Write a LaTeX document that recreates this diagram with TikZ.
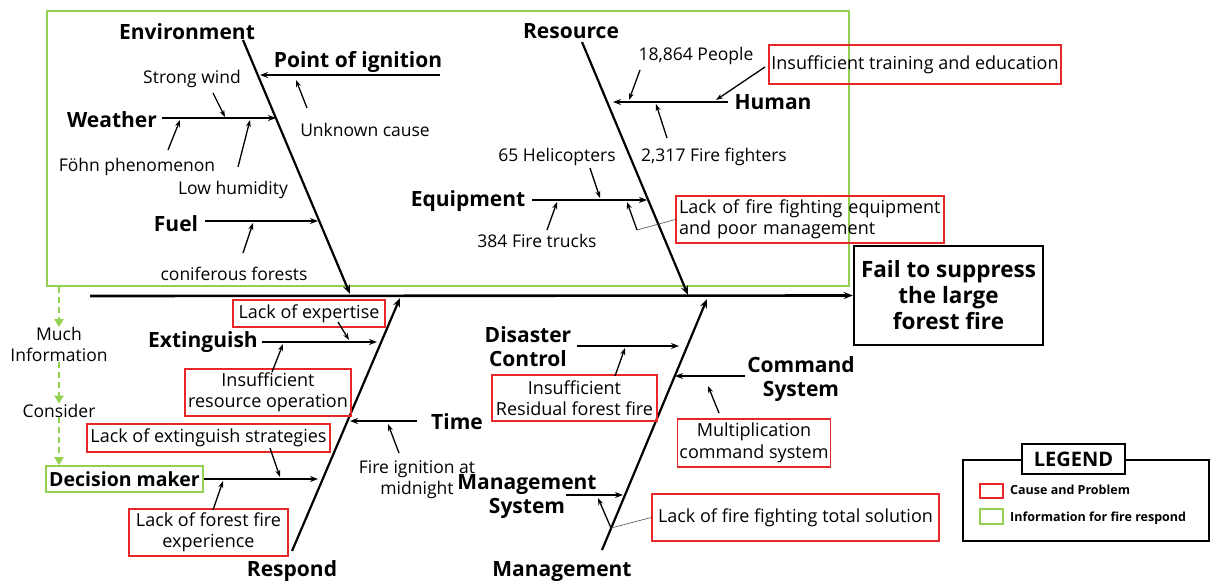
\documentclass[tikz,border=0pt]{standalone}
\usepackage{fontspec}
\setmainfont{Open Sans}
\usetikzlibrary{arrows.meta}
\definecolor{rbox}{RGB}{232,40,40}
\definecolor{gbox}{RGB}{146,208,80}
\tikzset{
  lbl/.style={font=\fontsize{17.5}{21}\selectfont, inner sep=0pt, align=center, yshift=-1.5pt},
  cat/.style={font=\fontsize{21}{24}\bfseries\selectfont, inner sep=0pt, align=center, yshift=-1.5pt},
  redbox/.style={draw=rbox, line width=1.5pt, font=\fontsize{18}{21.5}\selectfont, inner sep=2pt, align=center},
  bone/.style={line width=2.2pt, -{Stealth[length=9pt,width=7pt]}},
  branch/.style={line width=1.6pt, -{Stealth[length=8pt,width=6pt]}},
  small/.style={line width=1.3pt, -{Stealth[length=7pt,width=5pt]}},
  thin/.style={line width=0.6pt, draw=black!70},
  gdash/.style={draw=gbox, line width=2.6pt, dash pattern=on 6pt off 4pt, -{Triangle[length=8pt,width=9pt,fill=gbox]}}
}
\begin{document}
\begin{tikzpicture}[x=1pt,y=-1pt]
\useasboundingbox (0,0) rectangle (1210,584);
% green frame
\draw[gbox, line width=1.6pt] (47,11) rectangle (849,286);
% outcome
\node[draw, line width=2.4pt, minimum width=189pt, minimum height=99pt, font=\fontsize{22.5}{26}\bfseries\selectfont, align=center, inner sep=0pt] (out) at (948.5,295.5) {Fail to suppress\\the large\\forest fire};
\coordinate (spS) at (90,296);
\draw[line width=2.6pt, -{Stealth[length=9pt,width=7pt]}] (spS) -- (out.west);
% main bones
\coordinate (envT) at (243,40); \coordinate (envB) at (350,294);
\coordinate (resT) at (582,42); \coordinate (resB) at (688,295);
\coordinate (rspB) at (292,551); \coordinate (rspT) at (400,298);
\coordinate (mgB) at (602,550); \coordinate (mgT) at (707,299);
\draw[bone] (envT) -- (envB);
\draw[bone] (resT) -- (resB);
\draw[bone] (rspB) -- (rspT);
\draw[bone] (mgB) -- (mgT);
\node[cat] (env) at (187,30) {Environment};
\node[cat] (res) at (571,30) {Resource};
\node[cat] (rsp) at (292,570) {Respond};
\node[cat] (mg) at (562,570) {Management};
% Environment branches
\node[cat] (poi) at (358,60) {Point of ignition};
\coordinate (poiS) at (440,75); \coordinate (poiE) at (260,75);
\draw[branch] (poiS) -- (poiE);
\node[lbl] (unk) at (365,128) {Unknown cause};
\coordinate (unkA) at (307,108); \coordinate (unkB) at (296,80);
\draw[small] (unkA) -- (unkB);
\node[cat] (wea) at (112,118) {Weather};
\coordinate (weaS) at (162,118); \coordinate (weaE) at (276,118);
\draw[branch] (weaS) -- (weaE);
\node[lbl] (sw) at (192,77) {Strong wind};
\coordinate (swA) at (213,93); \coordinate (swB) at (225,117);
\draw[small] (swA) -- (swB);
\node[lbl] (fohn) at (137,165) {Föhn phenomenon};
\coordinate (fohnA) at (168,150); \coordinate (fohnB) at (180,120);
\draw[small] (fohnA) -- (fohnB);
\node[lbl] (lh) at (233,188) {Low humidity};
\coordinate (lhA) at (238,167); \coordinate (lhB) at (250,120);
\draw[small] (lhA) -- (lhB);
\node[cat] (fuel) at (176,222) {Fuel};
\coordinate (fuelS) at (205,221); \coordinate (fuelE) at (318,221);
\draw[branch] (fuelS) -- (fuelE);
\node[lbl] (conf) at (234,272) {coniferous forests};
\coordinate (confA) at (243,253); \coordinate (confB) at (253,223);
\draw[small] (confA) -- (confB);
% Resource branches
\node[cat] (hum) at (773,101) {Human};
\coordinate (humS) at (728,102); \coordinate (humE) at (613,102);
\draw[branch] (humS) -- (humE);
\node[lbl] (ppl) at (696,54) {18,864 People};
\coordinate (pplA) at (640,70); \coordinate (pplB) at (629,100);
\draw[small] (pplA) -- (pplB);
\node[redbox, minimum width=292pt, minimum height=39pt] (ite) at (915,64.5) {Insufficient training and education};
\coordinate (iteA) at (765,67); \coordinate (iteB) at (716,100);
\draw[small] (iteA) -- (iteB);
\node[lbl] (ff) at (714,155) {2,317 Fire fighters};
\coordinate (ffA) at (667,138); \coordinate (ffB) at (656,104);
\draw[small] (ffA) -- (ffB);
\node[cat] (eqp) at (468,200) {Equipment};
\coordinate (eqpS) at (532,200); \coordinate (eqpE) at (647,200);
\draw[branch] (eqpS) -- (eqpE);
\node[lbl] (heli) at (557,155) {65 Helicopters};
\coordinate (heliA) at (590,168); \coordinate (heliB) at (600,198);
\draw[small] (heliA) -- (heliB);
\node[lbl] (trk) at (537,239) {384 Fire trucks};
\coordinate (trkA) at (547,230); \coordinate (trkB) at (557,202);
\draw[small] (trkA) -- (trkB);
\node[redbox, minimum width=268pt, minimum height=47pt, align=left, text width=262pt, inner sep=3pt] (lffe) at (810,219.5) {Lack of fire fighting equipment\\and poor management};
\coordinate (lffeK) at (637,230); \coordinate (lffeB) at (627,202);
\draw[thin] (lffe.west) -- (lffeK);
\draw[small] (lffeK) -- (lffeB);
% left information flow
\node[lbl] (mi) at (59,343) {Much\\Information};
\node[lbl] (cons) at (59,409) {Consider};
\node[draw=gbox, line width=1.6pt, minimum width=157pt, minimum height=26pt, font=\fontsize{19.5}{24}\bfseries\selectfont, inner sep=0pt] (dm) at (124.5,479) {Decision maker};
\coordinate (g0) at (59,287);
\draw[gdash] (g0) -- (mi.north);
\draw[gdash] (mi.south) -- (cons.north);
\draw[gdash] (cons.south) -- (dm.north -| cons.south);
% Respond branches
\node[cat] (ext) at (203,341) {Extinguish};
\coordinate (extS) at (262,342); \coordinate (extE) at (377,342);
\draw[branch] (extS) -- (extE);
\node[redbox, minimum width=152pt, minimum height=27pt] (loe) at (309,313.5) {Lack of expertise};
\coordinate (loeA) at (338,322); \coordinate (loeB) at (349,340);
\draw[small] (loeA) -- (loeB);
\node[redbox, minimum width=166pt, minimum height=47pt] (iro) at (268,392.5) {Insufficient\\resource operation};
\coordinate (iroA) at (272,372); \coordinate (iroB) at (283,344);
\draw[small] (iroA) -- (iroB);
\node[cat] (time) at (457,420) {Time};
\coordinate (timeS) at (417,421); \coordinate (timeE) at (350,421);
\draw[branch] (timeS) -- (timeE);
\node[lbl] (fim) at (417,478) {Fire ignition at\\midnight};
\coordinate (fimA) at (399,453); \coordinate (fimB) at (388,424);
\draw[small] (fimA) -- (fimB);
\coordinate (dmE) at (318,479);
\draw[branch] (dm.east) -- (dmE);
\node[redbox, minimum width=243pt, minimum height=28pt] (les) at (208.5,438) {Lack of extinguish strategies};
\coordinate (lesA) at (270,448); \coordinate (lesB) at (280,477);
\draw[small] (lesA) -- (lesB);
\node[redbox, minimum width=159pt, minimum height=47pt] (lffx) at (208.5,532.5) {Lack of forest fire\\experience};
\coordinate (lffxA) at (213,510); \coordinate (lffxB) at (223,481);
\draw[small] (lffxA) -- (lffxB);
% Management branches
\node[cat] (dc) at (528,345) {Disaster\\Control};
\coordinate (dcS) at (577,346); \coordinate (dcE) at (679,346);
\draw[branch] (dcS) -- (dcE);
\node[redbox, minimum width=165pt, minimum height=46pt] (irff) at (574.5,398) {Insufficient\\Residual forest fire};
\coordinate (irffA) at (615,376); \coordinate (irffB) at (625,348);
\draw[small] (irffA) -- (irffB);
\node[cat] (cs) at (801,378) {Command\\System};
\coordinate (csS) at (745,376); \coordinate (csE) at (675,376);
\draw[branch] (csS) -- (csE);
\node[redbox, minimum width=152pt, minimum height=48pt] (mcs) at (754,443) {Multiplication\\command system};
\coordinate (mcsA) at (719,413); \coordinate (mcsB) at (708,386);
\draw[small] (mcsA) -- (mcsB);
\node[cat] (ms) at (527,495) {Management\\System};
\coordinate (msS) at (566,495); \coordinate (msE) at (623,495);
\draw[branch] (msS) -- (msE);
\node[redbox, minimum width=287pt, minimum height=47pt] (lffts) at (795.5,517.5) {Lack of fire fighting total solution};
\coordinate (lfftsK) at (611,528); \coordinate (lfftsB) at (598,498);
\draw[thin] (lffts.west) -- (lfftsK);
\draw[small] (lfftsK) -- (lfftsB);
% legend
\node[draw, line width=1.3pt, minimum width=246pt, minimum height=81pt, inner sep=0pt] (leg) at (1086,500.5) {};
\node[draw, fill=white, line width=1.3pt, minimum width=103pt, minimum height=30pt, font=\fontsize{20}{24}\bfseries\selectfont, inner sep=0pt] (legt) at (1073.5,459) {LEGEND};
\node[draw=rbox, line width=1.3pt, minimum width=23pt, minimum height=14pt, inner sep=0pt] (lr) at (991.5,491) {};
\node[draw=gbox, line width=1.3pt, minimum width=23pt, minimum height=15pt, inner sep=0pt] (lg) at (991.5,516.5) {};
\node[anchor=west, font=\fontsize{12.5}{15}\bfseries\selectfont, inner sep=0pt] (lrt) at (1010,490) {Cause and Problem};
\node[anchor=west, font=\fontsize{12.5}{15}\bfseries\selectfont, inner sep=0pt] (lgt) at (1010,518) {Information for fire respond};
\end{tikzpicture}
\end{document}
